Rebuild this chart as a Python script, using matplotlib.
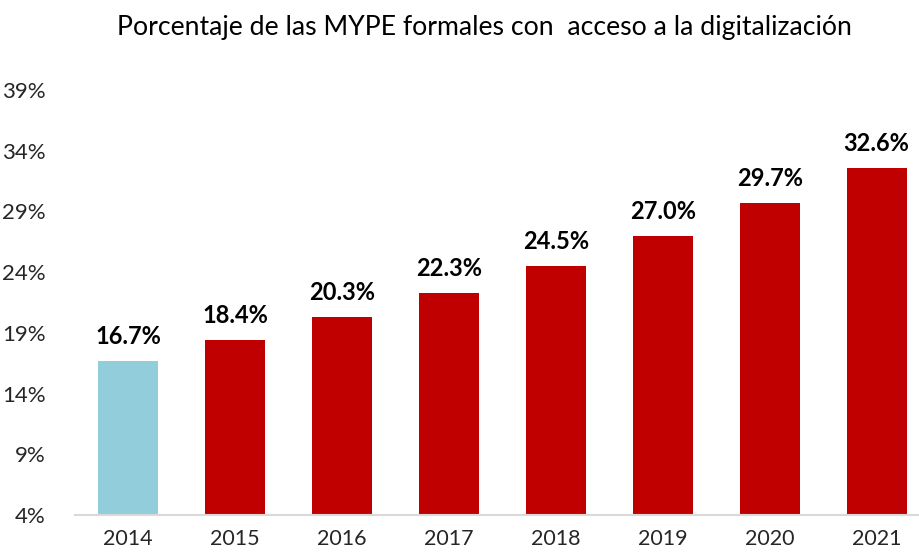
import matplotlib
matplotlib.use("Agg")
import matplotlib.pyplot as plt
from matplotlib.ticker import FixedLocator

years = ["2014", "2015", "2016", "2017", "2018", "2019", "2020", "2021"]
values = [16.7, 18.4, 20.3, 22.3, 24.5, 27.0, 29.7, 32.6]
labels = ["16.7%", "18.4%", "20.3%", "22.3%", "24.5%", "27.0%", "29.7%", "32.6%"]
yticks = [4, 9, 14, 19, 24, 29, 34, 39]
ytick_labels = ["4%", "9%", "14%", "19%", "24%", "29%", "34%", "39%"]
colors = ["#92CDDC"] + ["#C00000"] * 7
title = "Porcentaje de las MYPE formales con  acceso a la digitalización"

plt.rcParams['font.family'] = ['Lato', 'DejaVu Sans']

fig = plt.figure(figsize=(9.2, 5.55), dpi=100)
ax = fig.add_axes([0.081, 0.072, 0.930, 0.766])
x = list(range(len(years)))
base = yticks[0]
ax.bar(x, [v - base for v in values], bottom=base, width=0.56, color=colors, zorder=2)
for xi, v, lab in zip(x, values, labels):
    ax.text(xi, v + 1.05, lab, ha='center', va='bottom', fontsize=17, fontweight='bold', color='#000000')

ax.set_xlim(-0.5, len(years) - 0.5)
ax.set_ylim(yticks[0], yticks[-1])
ax.yaxis.set_major_locator(FixedLocator(yticks))
ax.set_yticklabels(ytick_labels, fontsize=16, color='#262626')
ax.set_xticks(x)
ax.set_xticklabels(years, fontsize=15.5, color='#262626')
ax.tick_params(axis='both', length=0)
ax.tick_params(axis='y', pad=21)
ax.tick_params(axis='x', pad=10)
for s in ['top', 'right', 'left']:
    ax.spines[s].set_visible(False)
ax.spines['bottom'].set_color('#D9D9D9')
ax.spines['bottom'].set_linewidth(1.5)

fig.text(0.527, 0.951, title, ha='center', va='center', fontsize=19.2, color='#000000')

fig.savefig("out.png", dpi=100)
